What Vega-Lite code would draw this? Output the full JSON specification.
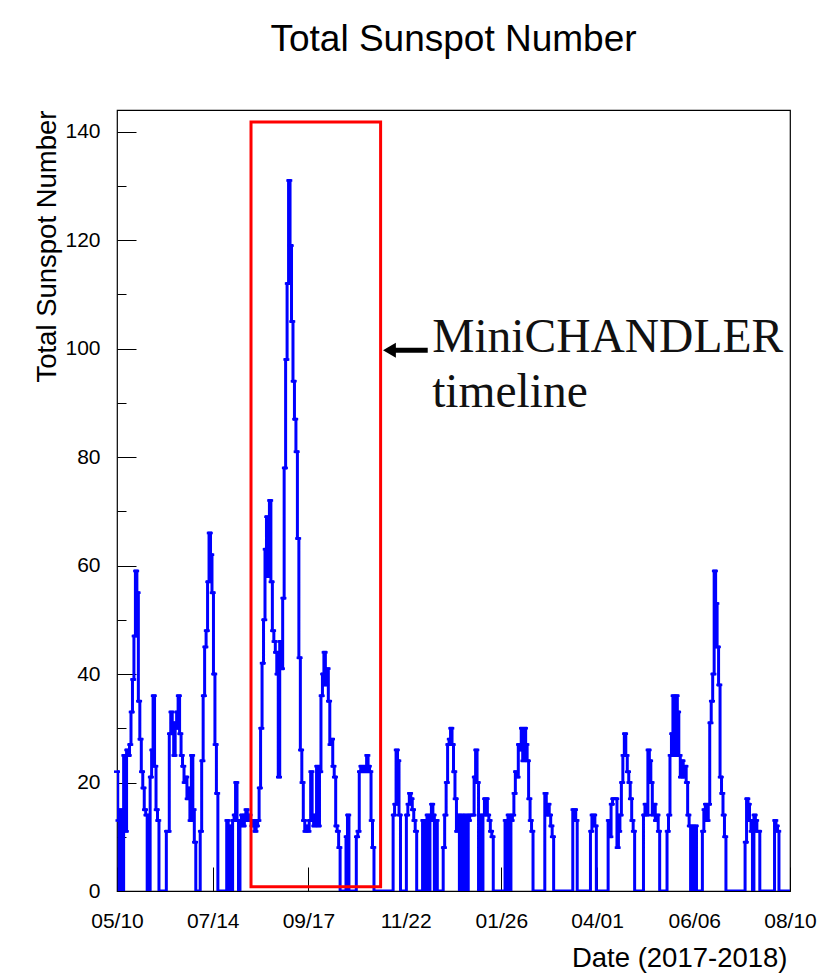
{
  "$schema": "https://vega.github.io/schema/vega-lite/v6.json",
  "autosize": {"type": "none"},
  "padding": {"left": 117, "top": 110, "right": 44, "bottom": 89},
  "width": 673,
  "height": 781,
  "background": "#ffffff",
  "title": {
    "text": "Total Sunspot Number",
    "font": "Liberation Sans",
    "fontSize": 37,
    "fontWeight": "normal",
    "color": "#000000",
    "anchor": "middle",
    "frame": "group",
    "baseline": "alphabetic",
    "offset": 22
  },
  "config": {
    "view": {"stroke": "#000000", "strokeWidth": 1.2},
    "axis": {
      "domain": false,
      "grid": false,
      "labelFont": "Liberation Sans",
      "titleFont": "Liberation Sans",
      "labelColor": "#000000",
      "titleColor": "#000000",
      "tickColor": "#000000",
      "tickWidth": 1,
      "labelFontSize": 21,
      "titleFontSize": 27.5,
      "titleFontWeight": "normal",
      "zindex": 1
    }
  },
  "datasets": {
    "sunspots": [
      {"date":"2017-05-10","sn":22},{"date":"2017-05-11","sn":13},{"date":"2017-05-12","sn":0},{"date":"2017-05-13","sn":15},{"date":"2017-05-14","sn":0},{"date":"2017-05-15","sn":25},{"date":"2017-05-16","sn":11},{"date":"2017-05-17","sn":26},{"date":"2017-05-18","sn":25},{"date":"2017-05-19","sn":27},{"date":"2017-05-20","sn":33},{"date":"2017-05-21","sn":39},{"date":"2017-05-22","sn":47},{"date":"2017-05-23","sn":59},{"date":"2017-05-24","sn":55},{"date":"2017-05-25","sn":35},{"date":"2017-05-26","sn":28},{"date":"2017-05-27","sn":22},{"date":"2017-05-28","sn":19},{"date":"2017-05-29","sn":15},{"date":"2017-05-30","sn":14},{"date":"2017-05-31","sn":0},
      {"date":"2017-06-01","sn":0},{"date":"2017-06-02","sn":21},{"date":"2017-06-03","sn":26},{"date":"2017-06-04","sn":36},{"date":"2017-06-05","sn":23},{"date":"2017-06-06","sn":15},{"date":"2017-06-07","sn":13},{"date":"2017-06-08","sn":0},{"date":"2017-06-09","sn":0},{"date":"2017-06-10","sn":0},{"date":"2017-06-11","sn":0},{"date":"2017-06-12","sn":0},{"date":"2017-06-13","sn":11},{"date":"2017-06-14","sn":11},{"date":"2017-06-15","sn":29},{"date":"2017-06-16","sn":33},{"date":"2017-06-17","sn":31},{"date":"2017-06-18","sn":25},{"date":"2017-06-19","sn":30},{"date":"2017-06-20","sn":33},{"date":"2017-06-21","sn":36},{"date":"2017-06-22","sn":29},{"date":"2017-06-23","sn":25},{"date":"2017-06-24","sn":23},{"date":"2017-06-25","sn":20},{"date":"2017-06-26","sn":21},{"date":"2017-06-27","sn":17},{"date":"2017-06-28","sn":19},{"date":"2017-06-29","sn":13},{"date":"2017-06-30","sn":25},
      {"date":"2017-07-01","sn":15},{"date":"2017-07-02","sn":9},{"date":"2017-07-03","sn":0},{"date":"2017-07-04","sn":0},{"date":"2017-07-05","sn":0},{"date":"2017-07-06","sn":11},{"date":"2017-07-07","sn":24},{"date":"2017-07-08","sn":36},{"date":"2017-07-09","sn":45},{"date":"2017-07-10","sn":48},{"date":"2017-07-11","sn":57},{"date":"2017-07-12","sn":66},{"date":"2017-07-13","sn":62},{"date":"2017-07-14","sn":55},{"date":"2017-07-15","sn":40},{"date":"2017-07-16","sn":27},{"date":"2017-07-17","sn":18},{"date":"2017-07-18","sn":0},{"date":"2017-07-19","sn":0},{"date":"2017-07-20","sn":0},{"date":"2017-07-21","sn":0},{"date":"2017-07-22","sn":0},{"date":"2017-07-23","sn":0},{"date":"2017-07-24","sn":13},{"date":"2017-07-25","sn":0},{"date":"2017-07-26","sn":12},{"date":"2017-07-27","sn":0},{"date":"2017-07-28","sn":13},{"date":"2017-07-29","sn":14},{"date":"2017-07-30","sn":20},{"date":"2017-07-31","sn":13},
      {"date":"2017-08-01","sn":0},{"date":"2017-08-02","sn":13},{"date":"2017-08-03","sn":14},{"date":"2017-08-04","sn":12},{"date":"2017-08-05","sn":14},{"date":"2017-08-06","sn":15},{"date":"2017-08-07","sn":13},{"date":"2017-08-08","sn":14},{"date":"2017-08-09","sn":13},{"date":"2017-08-10","sn":12},{"date":"2017-08-11","sn":13},{"date":"2017-08-12","sn":11},{"date":"2017-08-13","sn":12},{"date":"2017-08-14","sn":13},{"date":"2017-08-15","sn":19},{"date":"2017-08-16","sn":30},{"date":"2017-08-17","sn":42},{"date":"2017-08-18","sn":50},{"date":"2017-08-19","sn":63},{"date":"2017-08-20","sn":69},{"date":"2017-08-21","sn":58},{"date":"2017-08-22","sn":72},{"date":"2017-08-23","sn":57},{"date":"2017-08-24","sn":48},{"date":"2017-08-25","sn":46},{"date":"2017-08-26","sn":44},{"date":"2017-08-27","sn":40},{"date":"2017-08-28","sn":21},{"date":"2017-08-29","sn":46},{"date":"2017-08-30","sn":41},{"date":"2017-08-31","sn":54},
      {"date":"2017-09-01","sn":78},{"date":"2017-09-02","sn":98},{"date":"2017-09-03","sn":112},{"date":"2017-09-04","sn":131},{"date":"2017-09-05","sn":119},{"date":"2017-09-06","sn":105},{"date":"2017-09-07","sn":94},{"date":"2017-09-08","sn":87},{"date":"2017-09-09","sn":81},{"date":"2017-09-10","sn":65},{"date":"2017-09-11","sn":43},{"date":"2017-09-12","sn":26},{"date":"2017-09-13","sn":20},{"date":"2017-09-14","sn":13},{"date":"2017-09-15","sn":11},{"date":"2017-09-16","sn":12},{"date":"2017-09-17","sn":11},{"date":"2017-09-18","sn":13},{"date":"2017-09-19","sn":22},{"date":"2017-09-20","sn":14},{"date":"2017-09-21","sn":12},{"date":"2017-09-22","sn":13},{"date":"2017-09-23","sn":23},{"date":"2017-09-24","sn":12},{"date":"2017-09-25","sn":22},{"date":"2017-09-26","sn":36},{"date":"2017-09-27","sn":40},{"date":"2017-09-28","sn":44},{"date":"2017-09-29","sn":38},{"date":"2017-09-30","sn":41},
      {"date":"2017-10-01","sn":35},{"date":"2017-10-02","sn":27},{"date":"2017-10-03","sn":28},{"date":"2017-10-04","sn":23},{"date":"2017-10-05","sn":21},{"date":"2017-10-06","sn":12},{"date":"2017-10-07","sn":11},{"date":"2017-10-08","sn":8},{"date":"2017-10-09","sn":0},{"date":"2017-10-10","sn":0},{"date":"2017-10-11","sn":0},{"date":"2017-10-12","sn":0},{"date":"2017-10-13","sn":10},{"date":"2017-10-14","sn":14},{"date":"2017-10-15","sn":0},{"date":"2017-10-16","sn":0},{"date":"2017-10-17","sn":0},{"date":"2017-10-18","sn":0},{"date":"2017-10-19","sn":0},{"date":"2017-10-20","sn":10},{"date":"2017-10-21","sn":11},{"date":"2017-10-22","sn":22},{"date":"2017-10-23","sn":23},{"date":"2017-10-24","sn":22},{"date":"2017-10-25","sn":23},{"date":"2017-10-26","sn":22},{"date":"2017-10-27","sn":25},{"date":"2017-10-28","sn":23},{"date":"2017-10-29","sn":22},{"date":"2017-10-30","sn":13},{"date":"2017-10-31","sn":8},
      {"date":"2017-11-01","sn":0},{"date":"2017-11-02","sn":0},{"date":"2017-11-03","sn":0},{"date":"2017-11-04","sn":0},{"date":"2017-11-05","sn":0},{"date":"2017-11-06","sn":0},{"date":"2017-11-07","sn":0},{"date":"2017-11-08","sn":0},{"date":"2017-11-09","sn":0},{"date":"2017-11-10","sn":0},{"date":"2017-11-11","sn":0},{"date":"2017-11-12","sn":0},{"date":"2017-11-13","sn":0},{"date":"2017-11-14","sn":14},{"date":"2017-11-15","sn":16},{"date":"2017-11-16","sn":26},{"date":"2017-11-17","sn":24},{"date":"2017-11-18","sn":14},{"date":"2017-11-19","sn":0},{"date":"2017-11-20","sn":0},{"date":"2017-11-21","sn":0},{"date":"2017-11-22","sn":0},{"date":"2017-11-23","sn":14},{"date":"2017-11-24","sn":16},{"date":"2017-11-25","sn":18},{"date":"2017-11-26","sn":17},{"date":"2017-11-27","sn":15},{"date":"2017-11-28","sn":13},{"date":"2017-11-29","sn":11},{"date":"2017-11-30","sn":0},
      {"date":"2017-12-01","sn":0},{"date":"2017-12-02","sn":0},{"date":"2017-12-03","sn":0},{"date":"2017-12-04","sn":13},{"date":"2017-12-05","sn":12},{"date":"2017-12-06","sn":0},{"date":"2017-12-07","sn":14},{"date":"2017-12-08","sn":0},{"date":"2017-12-09","sn":13},{"date":"2017-12-10","sn":16},{"date":"2017-12-11","sn":14},{"date":"2017-12-12","sn":0},{"date":"2017-12-13","sn":13},{"date":"2017-12-14","sn":0},{"date":"2017-12-15","sn":0},{"date":"2017-12-16","sn":0},{"date":"2017-12-17","sn":0},{"date":"2017-12-18","sn":8},{"date":"2017-12-19","sn":14},{"date":"2017-12-20","sn":20},{"date":"2017-12-21","sn":27},{"date":"2017-12-22","sn":28},{"date":"2017-12-23","sn":30},{"date":"2017-12-24","sn":27},{"date":"2017-12-25","sn":22},{"date":"2017-12-26","sn":17},{"date":"2017-12-27","sn":11},{"date":"2017-12-28","sn":14},{"date":"2017-12-29","sn":0},{"date":"2017-12-30","sn":14},{"date":"2017-12-31","sn":0},
      {"date":"2018-01-01","sn":13},{"date":"2018-01-02","sn":14},{"date":"2018-01-03","sn":0},{"date":"2018-01-04","sn":13},{"date":"2018-01-05","sn":14},{"date":"2018-01-06","sn":14},{"date":"2018-01-07","sn":14},{"date":"2018-01-08","sn":21},{"date":"2018-01-09","sn":26},{"date":"2018-01-10","sn":20},{"date":"2018-01-11","sn":0},{"date":"2018-01-12","sn":14},{"date":"2018-01-13","sn":0},{"date":"2018-01-14","sn":14},{"date":"2018-01-15","sn":17},{"date":"2018-01-16","sn":17},{"date":"2018-01-17","sn":14},{"date":"2018-01-18","sn":13},{"date":"2018-01-19","sn":11},{"date":"2018-01-20","sn":10},{"date":"2018-01-21","sn":0},{"date":"2018-01-22","sn":0},{"date":"2018-01-23","sn":0},{"date":"2018-01-24","sn":0},{"date":"2018-01-25","sn":0},{"date":"2018-01-26","sn":0},{"date":"2018-01-27","sn":0},{"date":"2018-01-28","sn":0},{"date":"2018-01-29","sn":13},{"date":"2018-01-30","sn":0},{"date":"2018-01-31","sn":14},
      {"date":"2018-02-01","sn":0},{"date":"2018-02-02","sn":13},{"date":"2018-02-03","sn":14},{"date":"2018-02-04","sn":18},{"date":"2018-02-05","sn":22},{"date":"2018-02-06","sn":21},{"date":"2018-02-07","sn":27},{"date":"2018-02-08","sn":26},{"date":"2018-02-09","sn":30},{"date":"2018-02-10","sn":24},{"date":"2018-02-11","sn":30},{"date":"2018-02-12","sn":27},{"date":"2018-02-13","sn":24},{"date":"2018-02-14","sn":17},{"date":"2018-02-15","sn":13},{"date":"2018-02-16","sn":11},{"date":"2018-02-17","sn":0},{"date":"2018-02-18","sn":0},{"date":"2018-02-19","sn":0},{"date":"2018-02-20","sn":0},{"date":"2018-02-21","sn":0},{"date":"2018-02-22","sn":0},{"date":"2018-02-23","sn":0},{"date":"2018-02-24","sn":0},{"date":"2018-02-25","sn":18},{"date":"2018-02-26","sn":14},{"date":"2018-02-27","sn":16},{"date":"2018-02-28","sn":14},
      {"date":"2018-03-01","sn":12},{"date":"2018-03-02","sn":10},{"date":"2018-03-03","sn":0},{"date":"2018-03-04","sn":0},{"date":"2018-03-05","sn":0},{"date":"2018-03-06","sn":0},{"date":"2018-03-07","sn":0},{"date":"2018-03-08","sn":0},{"date":"2018-03-09","sn":0},{"date":"2018-03-10","sn":0},{"date":"2018-03-11","sn":0},{"date":"2018-03-12","sn":0},{"date":"2018-03-13","sn":0},{"date":"2018-03-14","sn":0},{"date":"2018-03-15","sn":0},{"date":"2018-03-16","sn":15},{"date":"2018-03-17","sn":15},{"date":"2018-03-18","sn":13},{"date":"2018-03-19","sn":0},{"date":"2018-03-20","sn":0},{"date":"2018-03-21","sn":0},{"date":"2018-03-22","sn":0},{"date":"2018-03-23","sn":0},{"date":"2018-03-24","sn":0},{"date":"2018-03-25","sn":0},{"date":"2018-03-26","sn":0},{"date":"2018-03-27","sn":0},{"date":"2018-03-28","sn":11},{"date":"2018-03-29","sn":14},{"date":"2018-03-30","sn":14},{"date":"2018-03-31","sn":12},
      {"date":"2018-04-01","sn":0},{"date":"2018-04-02","sn":0},{"date":"2018-04-03","sn":0},{"date":"2018-04-04","sn":0},{"date":"2018-04-05","sn":0},{"date":"2018-04-06","sn":0},{"date":"2018-04-07","sn":0},{"date":"2018-04-08","sn":0},{"date":"2018-04-09","sn":13},{"date":"2018-04-10","sn":10},{"date":"2018-04-11","sn":16},{"date":"2018-04-12","sn":17},{"date":"2018-04-13","sn":17},{"date":"2018-04-14","sn":17},{"date":"2018-04-15","sn":8},{"date":"2018-04-16","sn":11},{"date":"2018-04-17","sn":14},{"date":"2018-04-18","sn":20},{"date":"2018-04-19","sn":25},{"date":"2018-04-20","sn":29},{"date":"2018-04-21","sn":25},{"date":"2018-04-22","sn":22},{"date":"2018-04-23","sn":20},{"date":"2018-04-24","sn":17},{"date":"2018-04-25","sn":13},{"date":"2018-04-26","sn":11},{"date":"2018-04-27","sn":0},{"date":"2018-04-28","sn":0},{"date":"2018-04-29","sn":0},{"date":"2018-04-30","sn":0},
      {"date":"2018-05-01","sn":0},{"date":"2018-05-02","sn":0},{"date":"2018-05-03","sn":14},{"date":"2018-05-04","sn":16},{"date":"2018-05-05","sn":14},{"date":"2018-05-06","sn":26},{"date":"2018-05-07","sn":24},{"date":"2018-05-08","sn":20},{"date":"2018-05-09","sn":14},{"date":"2018-05-10","sn":16},{"date":"2018-05-11","sn":13},{"date":"2018-05-12","sn":14},{"date":"2018-05-13","sn":11},{"date":"2018-05-14","sn":0},{"date":"2018-05-15","sn":0},{"date":"2018-05-16","sn":0},{"date":"2018-05-17","sn":0},{"date":"2018-05-18","sn":0},{"date":"2018-05-19","sn":11},{"date":"2018-05-20","sn":14},{"date":"2018-05-21","sn":25},{"date":"2018-05-22","sn":29},{"date":"2018-05-23","sn":36},{"date":"2018-05-24","sn":25},{"date":"2018-05-25","sn":36},{"date":"2018-05-26","sn":33},{"date":"2018-05-27","sn":25},{"date":"2018-05-28","sn":21},{"date":"2018-05-29","sn":24},{"date":"2018-05-30","sn":21},{"date":"2018-05-31","sn":23},
      {"date":"2018-06-01","sn":20},{"date":"2018-06-02","sn":14},{"date":"2018-06-03","sn":12},{"date":"2018-06-04","sn":0},{"date":"2018-06-05","sn":12},{"date":"2018-06-06","sn":0},{"date":"2018-06-07","sn":12},{"date":"2018-06-08","sn":0},{"date":"2018-06-09","sn":0},{"date":"2018-06-10","sn":0},{"date":"2018-06-11","sn":0},{"date":"2018-06-12","sn":11},{"date":"2018-06-13","sn":15},{"date":"2018-06-14","sn":16},{"date":"2018-06-15","sn":13},{"date":"2018-06-16","sn":16},{"date":"2018-06-17","sn":31},{"date":"2018-06-18","sn":35},{"date":"2018-06-19","sn":40},{"date":"2018-06-20","sn":59},{"date":"2018-06-21","sn":53},{"date":"2018-06-22","sn":45},{"date":"2018-06-23","sn":38},{"date":"2018-06-24","sn":21},{"date":"2018-06-25","sn":18},{"date":"2018-06-26","sn":14},{"date":"2018-06-27","sn":10},{"date":"2018-06-28","sn":0},{"date":"2018-06-29","sn":0},{"date":"2018-06-30","sn":0},
      {"date":"2018-07-01","sn":0},{"date":"2018-07-02","sn":0},{"date":"2018-07-03","sn":0},{"date":"2018-07-04","sn":0},{"date":"2018-07-05","sn":0},{"date":"2018-07-06","sn":0},{"date":"2018-07-07","sn":0},{"date":"2018-07-08","sn":0},{"date":"2018-07-09","sn":0},{"date":"2018-07-10","sn":0},{"date":"2018-07-11","sn":9},{"date":"2018-07-12","sn":17},{"date":"2018-07-13","sn":16},{"date":"2018-07-14","sn":13},{"date":"2018-07-15","sn":11},{"date":"2018-07-16","sn":0},{"date":"2018-07-17","sn":14},{"date":"2018-07-18","sn":13},{"date":"2018-07-19","sn":11},{"date":"2018-07-20","sn":11},{"date":"2018-07-21","sn":0},{"date":"2018-07-22","sn":0},{"date":"2018-07-23","sn":0},{"date":"2018-07-24","sn":0},{"date":"2018-07-25","sn":0},{"date":"2018-07-26","sn":0},{"date":"2018-07-27","sn":0},{"date":"2018-07-28","sn":0},{"date":"2018-07-29","sn":0},{"date":"2018-07-30","sn":0},{"date":"2018-07-31","sn":13},
      {"date":"2018-08-01","sn":12},{"date":"2018-08-02","sn":11},{"date":"2018-08-03","sn":0},{"date":"2018-08-04","sn":0},{"date":"2018-08-05","sn":0},{"date":"2018-08-06","sn":0},{"date":"2018-08-07","sn":0},{"date":"2018-08-08","sn":0},{"date":"2018-08-09","sn":0},{"date":"2018-08-10","sn":0}
    ],
    "window": [
      {"start": "2017-08-09", "end": "2017-11-05", "lo": 0.8, "hi": 141.8}
    ],
    "arrow": [
      {"from": "2017-11-13", "to": "2017-12-07", "head": "2017-11-11", "level": 99.7}
    ],
    "notes": [
      {"date": "2017-12-10", "level": 99.4, "label": "MiniCHANDLER"},
      {"date": "2017-12-10", "level": 89.2, "label": "timeline"}
    ]
  },
  "layer": [
    {
      "data": {"name": "sunspots"},
      "mark": {"type": "line", "color": "#0000ff", "strokeWidth": 3, "interpolate": "step", "clip": true},
      "encoding": {
        "x": {
          "field": "date",
          "type": "temporal",
          "scale": {
            "type": "utc",
            "domain": [
              {"year": 2017, "month": 5, "date": 10, "utc": true},
              {"year": 2018, "month": 8, "date": 10, "utc": true}
            ]
          },
          "axis": {
            "title": "Date (2017-2018)",
            "titleAlign": "right",
            "titleBaseline": "alphabetic",
            "titleX": 670,
            "titleY": 75,
            "labelExpr": "utcFormat(datum.value, '%m/%d')",
            "values": [
              {"year": 2017, "month": 5, "date": 10, "utc": true},
              {"year": 2017, "month": 7, "date": 14, "utc": true},
              {"year": 2017, "month": 9, "date": 17, "utc": true},
              {"year": 2017, "month": 11, "date": 22, "utc": true},
              {"year": 2018, "month": 1, "date": 26, "utc": true},
              {"year": 2018, "month": 4, "date": 1, "utc": true},
              {"year": 2018, "month": 6, "date": 6, "utc": true},
              {"year": 2018, "month": 8, "date": 10, "utc": true}
            ],
            "tickSize": -24,
            "labelPadding": 43,
            "labelFlush": false,
            "labelOverlap": false
          }
        },
        "y": {
          "field": "sn",
          "type": "quantitative",
          "scale": {"domain": [0, 144], "nice": false, "zero": true},
          "axis": {
            "title": "Total Sunspot Number",
            "titleAngle": 270,
            "titleAlign": "right",
            "titleBaseline": "alphabetic",
            "titleX": -62,
            "titleY": 0,
            "values": [0,5,10,15,20,25,30,35,40,45,50,55,60,65,70,75,80,85,90,95,100,105,110,115,120,125,130,135,140],
            "labelExpr": "datum.value % 20 === 0 ? datum.label : ''",
            "tickSize": {"condition": {"test": "datum.value % 20 === 0", "value": -19}, "value": -9},
            "labelPadding": 36,
            "labelOverlap": false
          }
        }
      }
    },
    {
      "data": {"name": "sunspots"},
      "transform": [{"filter": "datum.sn > 0"}],
      "mark": {"type": "tick", "orient": "horizontal", "color": "#0000ff", "size": 6, "thickness": 2.5, "opacity": 1},
      "encoding": {
        "x": {"field": "date", "type": "temporal"},
        "y": {"field": "sn", "type": "quantitative"}
      }
    },
    {
      "data": {"name": "window"},
      "mark": {"type": "rect", "fill": null, "fillOpacity": 0, "stroke": "#ff0000", "strokeWidth": 3},
      "encoding": {
        "x": {"field": "start", "type": "temporal"},
        "x2": {"field": "end"},
        "y": {"field": "lo", "type": "quantitative"},
        "y2": {"field": "hi"}
      }
    },
    {
      "data": {"name": "arrow"},
      "mark": {"type": "rule", "color": "#000000", "strokeWidth": 5},
      "encoding": {
        "x": {"field": "from", "type": "temporal"},
        "x2": {"field": "to"},
        "y": {"field": "level", "type": "quantitative"}
      }
    },
    {
      "data": {"name": "arrow"},
      "mark": {"type": "point", "shape": "triangle-left", "filled": true, "color": "#000000", "size": 220, "opacity": 1},
      "encoding": {
        "x": {"field": "head", "type": "temporal"},
        "y": {"field": "level", "type": "quantitative"}
      }
    },
    {
      "data": {"name": "notes"},
      "mark": {"type": "text", "align": "left", "baseline": "alphabetic", "font": "Liberation Serif", "fontSize": 47.5, "color": "#111111"},
      "encoding": {
        "x": {"field": "date", "type": "temporal"},
        "y": {"field": "level", "type": "quantitative"},
        "text": {"field": "label"}
      }
    }
  ]
}
